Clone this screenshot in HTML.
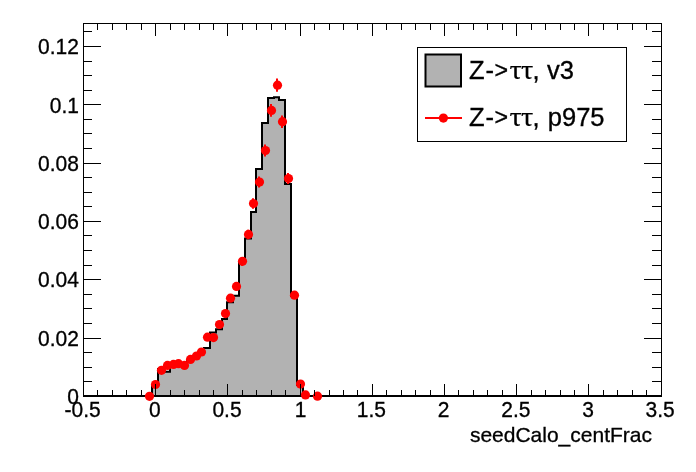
<!DOCTYPE html>
<html><head><meta charset="utf-8"><title>seedCalo_centFrac</title>
<style>html,body{margin:0;padding:0;background:#fff}svg{display:block}text{font-family:"Liberation Sans",sans-serif;fill:#000}.ser{font-family:"Liberation Serif",serif}</style></head><body>
<svg width="696" height="472" viewBox="0 0 696 472">
<rect x="0" y="0" width="696" height="472" fill="#fff"/>
<path d="M152.00,395.90 L152.00,385.00 L158.00,385.00 L158.00,369.00 L164.00,369.00 L164.00,371.70 L170.00,371.70 L170.00,366.00 L175.00,366.00 L175.00,365.00 L181.00,365.00 L181.00,366.00 L187.00,366.00 L187.00,361.00 L193.00,361.00 L193.00,357.00 L199.00,357.00 L199.00,353.00 L204.00,353.00 L204.00,348.00 L210.00,348.00 L210.00,332.60 L216.00,332.60 L216.00,329.20 L222.00,329.20 L222.00,318.90 L227.00,318.90 L227.00,302.30 L233.00,302.30 L233.00,295.70 L239.00,295.70 L239.00,262.00 L245.00,262.00 L245.00,238.50 L251.00,238.50 L251.00,212.00 L256.00,212.00 L256.00,168.90 L262.00,168.90 L262.00,123.10 L268.00,123.10 L268.00,98.00 L274.00,98.00 L274.00,97.20 L279.00,97.20 L279.00,99.90 L285.00,99.90 L285.00,183.90 L291.00,183.90 L291.00,296.00 L297.00,296.00 L297.00,385.00 L303.00,385.00 L303.00,394.50 L308.00,394.50 L308.00,395.90 Z" fill="#b2b2b2" stroke="none"/>
<path d="M152.00,395.90 L152.00,385.00 L158.00,385.00 L158.00,369.00 L164.00,369.00 L164.00,371.70 L170.00,371.70 L170.00,366.00 L175.00,366.00 L175.00,365.00 L181.00,365.00 L181.00,366.00 L187.00,366.00 L187.00,361.00 L193.00,361.00 L193.00,357.00 L199.00,357.00 L199.00,353.00 L204.00,353.00 L204.00,348.00 L210.00,348.00 L210.00,332.60 L216.00,332.60 L216.00,329.20 L222.00,329.20 L222.00,318.90 L227.00,318.90 L227.00,302.30 L233.00,302.30 L233.00,295.70 L239.00,295.70 L239.00,262.00 L245.00,262.00 L245.00,238.50 L251.00,238.50 L251.00,212.00 L256.00,212.00 L256.00,168.90 L262.00,168.90 L262.00,123.10 L268.00,123.10 L268.00,98.00 L274.00,98.00 L274.00,97.20 L279.00,97.20 L279.00,99.90 L285.00,99.90 L285.00,183.90 L291.00,183.90 L291.00,296.00 L297.00,296.00 L297.00,385.00 L303.00,385.00 L303.00,394.50 L308.00,394.50 L308.00,395.90" fill="none" stroke="#000" stroke-width="2" stroke-linejoin="miter" stroke-linecap="butt"/>
<g stroke="#000" stroke-width="1" shape-rendering="crispEdges" fill="none">
<line x1="83.5" y1="23.5" x2="83.5" y2="396.5"/>
<line x1="661.5" y1="23.5" x2="661.5" y2="396.5"/>
<line x1="83.0" y1="23.5" x2="662.0" y2="23.5"/>
<line x1="83.0" y1="396.0" x2="662.0" y2="396.0" stroke-width="2"/>
</g>
<g stroke="#f00" stroke-width="2" fill="#f00">
<circle cx="149.50" cy="396.30" r="4.6" stroke="none"/>
<circle cx="155.50" cy="384.50" r="4.6" stroke="none"/>
<circle cx="161.50" cy="370.30" r="4.6" stroke="none"/>
<circle cx="167.50" cy="365.40" r="4.6" stroke="none"/>
<circle cx="173.50" cy="364.40" r="4.6" stroke="none"/>
<circle cx="178.50" cy="363.70" r="4.6" stroke="none"/>
<circle cx="184.50" cy="365.40" r="4.6" stroke="none"/>
<circle cx="190.50" cy="359.40" r="4.6" stroke="none"/>
<circle cx="196.50" cy="356.00" r="4.6" stroke="none"/>
<circle cx="201.50" cy="352.00" r="4.6" stroke="none"/>
<circle cx="207.50" cy="337.20" r="4.6" stroke="none"/>
<circle cx="213.50" cy="337.60" r="4.6" stroke="none"/>
<circle cx="219.50" cy="324.50" r="4.6" stroke="none"/>
<circle cx="225.50" cy="313.60" r="4.6" stroke="none"/>
<line x1="230.00" y1="294.49" x2="230.00" y2="301.91"/>
<circle cx="230.50" cy="298.20" r="4.6" stroke="none"/>
<line x1="236.00" y1="282.47" x2="236.00" y2="290.33"/>
<circle cx="236.50" cy="286.40" r="4.6" stroke="none"/>
<line x1="242.00" y1="256.94" x2="242.00" y2="265.66"/>
<circle cx="242.50" cy="261.30" r="4.6" stroke="none"/>
<line x1="248.00" y1="229.63" x2="248.00" y2="239.17"/>
<circle cx="248.50" cy="234.40" r="4.6" stroke="none"/>
<line x1="253.00" y1="198.29" x2="253.00" y2="208.71"/>
<circle cx="253.50" cy="203.50" r="4.6" stroke="none"/>
<line x1="259.00" y1="176.61" x2="259.00" y2="187.59"/>
<circle cx="259.50" cy="182.10" r="4.6" stroke="none"/>
<line x1="265.00" y1="144.62" x2="265.00" y2="156.38"/>
<circle cx="265.50" cy="150.50" r="4.6" stroke="none"/>
<line x1="271.00" y1="104.05" x2="271.00" y2="116.75"/>
<circle cx="271.50" cy="110.40" r="4.6" stroke="none"/>
<line x1="277.00" y1="78.58" x2="277.00" y2="91.82"/>
<circle cx="277.50" cy="85.20" r="4.6" stroke="none"/>
<line x1="282.00" y1="115.48" x2="282.00" y2="127.92"/>
<circle cx="282.50" cy="121.70" r="4.6" stroke="none"/>
<line x1="288.00" y1="172.96" x2="288.00" y2="184.04"/>
<circle cx="288.50" cy="178.50" r="4.6" stroke="none"/>
<line x1="294.00" y1="291.43" x2="294.00" y2="298.97"/>
<circle cx="294.50" cy="295.20" r="4.6" stroke="none"/>
<circle cx="300.50" cy="384.10" r="4.6" stroke="none"/>
<circle cx="305.50" cy="394.90" r="4.6" stroke="none"/>
<circle cx="317.50" cy="396.20" r="4.6" stroke="none"/>
</g>
<g stroke="#000" stroke-width="1" shape-rendering="crispEdges" fill="none">
<line x1="83.5" y1="396.0" x2="83.5" y2="384.0"/>
<line x1="83.5" y1="23.5" x2="83.5" y2="35.5"/>
<line x1="97.5" y1="396.0" x2="97.5" y2="390.0"/>
<line x1="97.5" y1="23.5" x2="97.5" y2="29.5"/>
<line x1="112.5" y1="396.0" x2="112.5" y2="390.0"/>
<line x1="112.5" y1="23.5" x2="112.5" y2="29.5"/>
<line x1="126.5" y1="396.0" x2="126.5" y2="390.0"/>
<line x1="126.5" y1="23.5" x2="126.5" y2="29.5"/>
<line x1="141.5" y1="396.0" x2="141.5" y2="390.0"/>
<line x1="141.5" y1="23.5" x2="141.5" y2="29.5"/>
<line x1="155.5" y1="396.0" x2="155.5" y2="384.0"/>
<line x1="155.5" y1="23.5" x2="155.5" y2="35.5"/>
<line x1="170.5" y1="396.0" x2="170.5" y2="390.0"/>
<line x1="170.5" y1="23.5" x2="170.5" y2="29.5"/>
<line x1="184.5" y1="396.0" x2="184.5" y2="390.0"/>
<line x1="184.5" y1="23.5" x2="184.5" y2="29.5"/>
<line x1="199.5" y1="396.0" x2="199.5" y2="390.0"/>
<line x1="199.5" y1="23.5" x2="199.5" y2="29.5"/>
<line x1="213.5" y1="396.0" x2="213.5" y2="390.0"/>
<line x1="213.5" y1="23.5" x2="213.5" y2="29.5"/>
<line x1="227.5" y1="396.0" x2="227.5" y2="384.0"/>
<line x1="227.5" y1="23.5" x2="227.5" y2="35.5"/>
<line x1="242.5" y1="396.0" x2="242.5" y2="390.0"/>
<line x1="242.5" y1="23.5" x2="242.5" y2="29.5"/>
<line x1="256.5" y1="396.0" x2="256.5" y2="390.0"/>
<line x1="256.5" y1="23.5" x2="256.5" y2="29.5"/>
<line x1="271.5" y1="396.0" x2="271.5" y2="390.0"/>
<line x1="271.5" y1="23.5" x2="271.5" y2="29.5"/>
<line x1="285.5" y1="396.0" x2="285.5" y2="390.0"/>
<line x1="285.5" y1="23.5" x2="285.5" y2="29.5"/>
<line x1="300.5" y1="396.0" x2="300.5" y2="384.0"/>
<line x1="300.5" y1="23.5" x2="300.5" y2="35.5"/>
<line x1="314.5" y1="396.0" x2="314.5" y2="390.0"/>
<line x1="314.5" y1="23.5" x2="314.5" y2="29.5"/>
<line x1="329.5" y1="396.0" x2="329.5" y2="390.0"/>
<line x1="329.5" y1="23.5" x2="329.5" y2="29.5"/>
<line x1="343.5" y1="396.0" x2="343.5" y2="390.0"/>
<line x1="343.5" y1="23.5" x2="343.5" y2="29.5"/>
<line x1="357.5" y1="396.0" x2="357.5" y2="390.0"/>
<line x1="357.5" y1="23.5" x2="357.5" y2="29.5"/>
<line x1="372.5" y1="396.0" x2="372.5" y2="384.0"/>
<line x1="372.5" y1="23.5" x2="372.5" y2="35.5"/>
<line x1="386.5" y1="396.0" x2="386.5" y2="390.0"/>
<line x1="386.5" y1="23.5" x2="386.5" y2="29.5"/>
<line x1="401.5" y1="396.0" x2="401.5" y2="390.0"/>
<line x1="401.5" y1="23.5" x2="401.5" y2="29.5"/>
<line x1="415.5" y1="396.0" x2="415.5" y2="390.0"/>
<line x1="415.5" y1="23.5" x2="415.5" y2="29.5"/>
<line x1="430.5" y1="396.0" x2="430.5" y2="390.0"/>
<line x1="430.5" y1="23.5" x2="430.5" y2="29.5"/>
<line x1="444.5" y1="396.0" x2="444.5" y2="384.0"/>
<line x1="444.5" y1="23.5" x2="444.5" y2="35.5"/>
<line x1="458.5" y1="396.0" x2="458.5" y2="390.0"/>
<line x1="458.5" y1="23.5" x2="458.5" y2="29.5"/>
<line x1="473.5" y1="396.0" x2="473.5" y2="390.0"/>
<line x1="473.5" y1="23.5" x2="473.5" y2="29.5"/>
<line x1="487.5" y1="396.0" x2="487.5" y2="390.0"/>
<line x1="487.5" y1="23.5" x2="487.5" y2="29.5"/>
<line x1="502.5" y1="396.0" x2="502.5" y2="390.0"/>
<line x1="502.5" y1="23.5" x2="502.5" y2="29.5"/>
<line x1="516.5" y1="396.0" x2="516.5" y2="384.0"/>
<line x1="516.5" y1="23.5" x2="516.5" y2="35.5"/>
<line x1="531.5" y1="396.0" x2="531.5" y2="390.0"/>
<line x1="531.5" y1="23.5" x2="531.5" y2="29.5"/>
<line x1="545.5" y1="396.0" x2="545.5" y2="390.0"/>
<line x1="545.5" y1="23.5" x2="545.5" y2="29.5"/>
<line x1="560.5" y1="396.0" x2="560.5" y2="390.0"/>
<line x1="560.5" y1="23.5" x2="560.5" y2="29.5"/>
<line x1="574.5" y1="396.0" x2="574.5" y2="390.0"/>
<line x1="574.5" y1="23.5" x2="574.5" y2="29.5"/>
<line x1="588.5" y1="396.0" x2="588.5" y2="384.0"/>
<line x1="588.5" y1="23.5" x2="588.5" y2="35.5"/>
<line x1="603.5" y1="396.0" x2="603.5" y2="390.0"/>
<line x1="603.5" y1="23.5" x2="603.5" y2="29.5"/>
<line x1="617.5" y1="396.0" x2="617.5" y2="390.0"/>
<line x1="617.5" y1="23.5" x2="617.5" y2="29.5"/>
<line x1="632.5" y1="396.0" x2="632.5" y2="390.0"/>
<line x1="632.5" y1="23.5" x2="632.5" y2="29.5"/>
<line x1="646.5" y1="396.0" x2="646.5" y2="390.0"/>
<line x1="646.5" y1="23.5" x2="646.5" y2="29.5"/>
<line x1="661.5" y1="396.0" x2="661.5" y2="384.0"/>
<line x1="661.5" y1="23.5" x2="661.5" y2="35.5"/>
<line x1="83.5" y1="396.5" x2="101.0" y2="396.5"/>
<line x1="661.5" y1="396.5" x2="644.0" y2="396.5"/>
<line x1="83.5" y1="381.5" x2="92.0" y2="381.5"/>
<line x1="661.5" y1="381.5" x2="652.0" y2="381.5"/>
<line x1="83.5" y1="367.5" x2="92.0" y2="367.5"/>
<line x1="661.5" y1="367.5" x2="652.0" y2="367.5"/>
<line x1="83.5" y1="352.5" x2="92.0" y2="352.5"/>
<line x1="661.5" y1="352.5" x2="652.0" y2="352.5"/>
<line x1="83.5" y1="338.5" x2="101.0" y2="338.5"/>
<line x1="661.5" y1="338.5" x2="644.0" y2="338.5"/>
<line x1="83.5" y1="323.5" x2="92.0" y2="323.5"/>
<line x1="661.5" y1="323.5" x2="652.0" y2="323.5"/>
<line x1="83.5" y1="308.5" x2="92.0" y2="308.5"/>
<line x1="661.5" y1="308.5" x2="652.0" y2="308.5"/>
<line x1="83.5" y1="294.5" x2="92.0" y2="294.5"/>
<line x1="661.5" y1="294.5" x2="652.0" y2="294.5"/>
<line x1="83.5" y1="279.5" x2="101.0" y2="279.5"/>
<line x1="661.5" y1="279.5" x2="644.0" y2="279.5"/>
<line x1="83.5" y1="265.5" x2="92.0" y2="265.5"/>
<line x1="661.5" y1="265.5" x2="652.0" y2="265.5"/>
<line x1="83.5" y1="250.5" x2="92.0" y2="250.5"/>
<line x1="661.5" y1="250.5" x2="652.0" y2="250.5"/>
<line x1="83.5" y1="235.5" x2="92.0" y2="235.5"/>
<line x1="661.5" y1="235.5" x2="652.0" y2="235.5"/>
<line x1="83.5" y1="221.5" x2="101.0" y2="221.5"/>
<line x1="661.5" y1="221.5" x2="644.0" y2="221.5"/>
<line x1="83.5" y1="206.5" x2="92.0" y2="206.5"/>
<line x1="661.5" y1="206.5" x2="652.0" y2="206.5"/>
<line x1="83.5" y1="192.5" x2="92.0" y2="192.5"/>
<line x1="661.5" y1="192.5" x2="652.0" y2="192.5"/>
<line x1="83.5" y1="177.5" x2="92.0" y2="177.5"/>
<line x1="661.5" y1="177.5" x2="652.0" y2="177.5"/>
<line x1="83.5" y1="163.5" x2="101.0" y2="163.5"/>
<line x1="661.5" y1="163.5" x2="644.0" y2="163.5"/>
<line x1="83.5" y1="148.5" x2="92.0" y2="148.5"/>
<line x1="661.5" y1="148.5" x2="652.0" y2="148.5"/>
<line x1="83.5" y1="133.5" x2="92.0" y2="133.5"/>
<line x1="661.5" y1="133.5" x2="652.0" y2="133.5"/>
<line x1="83.5" y1="119.5" x2="92.0" y2="119.5"/>
<line x1="661.5" y1="119.5" x2="652.0" y2="119.5"/>
<line x1="83.5" y1="104.5" x2="101.0" y2="104.5"/>
<line x1="661.5" y1="104.5" x2="644.0" y2="104.5"/>
<line x1="83.5" y1="90.5" x2="92.0" y2="90.5"/>
<line x1="661.5" y1="90.5" x2="652.0" y2="90.5"/>
<line x1="83.5" y1="75.5" x2="92.0" y2="75.5"/>
<line x1="661.5" y1="75.5" x2="652.0" y2="75.5"/>
<line x1="83.5" y1="61.5" x2="92.0" y2="61.5"/>
<line x1="661.5" y1="61.5" x2="652.0" y2="61.5"/>
<line x1="83.5" y1="46.5" x2="101.0" y2="46.5"/>
<line x1="661.5" y1="46.5" x2="644.0" y2="46.5"/>
<line x1="83.5" y1="31.5" x2="92.0" y2="31.5"/>
<line x1="661.5" y1="31.5" x2="652.0" y2="31.5"/>
</g>
<g font-size="21px" stroke="#000" stroke-width="0.3">
<text transform="translate(82.6,416.7) scale(1,1.045)" text-anchor="middle">-0.5</text>
<text transform="translate(154.8,416.7) scale(1,1.045)" text-anchor="middle">0</text>
<text transform="translate(227.0,416.7) scale(1,1.045)" text-anchor="middle">0.5</text>
<text transform="translate(300.5,416.7) scale(1,1.045)" text-anchor="middle">1</text>
<text transform="translate(371.4,416.7) scale(1,1.045)" text-anchor="middle">1.5</text>
<text transform="translate(443.6,416.7) scale(1,1.045)" text-anchor="middle">2</text>
<text transform="translate(515.8,416.7) scale(1,1.045)" text-anchor="middle">2.5</text>
<text transform="translate(588.0,416.7) scale(1,1.045)" text-anchor="middle">3</text>
<text transform="translate(660.2,416.7) scale(1,1.045)" text-anchor="middle">3.5</text>
<text transform="translate(78.9,404.0) scale(1,1.035)" text-anchor="end">0</text>
<text transform="translate(78.9,345.7) scale(1,1.035)" text-anchor="end">0.02</text>
<text transform="translate(78.9,287.4) scale(1,1.035)" text-anchor="end">0.04</text>
<text transform="translate(78.9,229.1) scale(1,1.035)" text-anchor="end">0.06</text>
<text transform="translate(78.9,170.8) scale(1,1.035)" text-anchor="end">0.08</text>
<text transform="translate(78.9,112.5) scale(1,1.035)" text-anchor="end">0.1</text>
<text transform="translate(78.9,54.2) scale(1,1.035)" text-anchor="end">0.12</text>
</g>
<text x="652" y="441.5" text-anchor="end" font-size="21px" stroke="#000" stroke-width="0.3">seedCalo_centFrac</text>
<rect x="417.5" y="47.5" width="209" height="94" fill="#fff" stroke="#000" stroke-width="1" shape-rendering="crispEdges"/>
<rect x="425.5" y="54.5" width="35.5" height="32" fill="#b2b2b2" stroke="#000" stroke-width="2"/>
<line x1="425" y1="118" x2="462" y2="118" stroke="#f00" stroke-width="2"/>
<circle cx="443.4" cy="118.1" r="4.6" fill="#f00"/>
<g font-size="25.5px" stroke="#000" stroke-width="0.35"><text x="468.9" y="78.5">Z</text><text x="485.6" y="78.5">-</text><text x="494.4" y="77.6" font-size="23.2px">&gt;</text><text x="532.6" y="78.5">, <tspan dx="0.3">v3</tspan></text></g>
<text class="ser" transform="translate(509.4,78.5) scale(1.14,1)" font-size="27px" stroke="#000" stroke-width="0.12">τ</text>
<text class="ser" transform="translate(520.9,78.5) scale(1.14,1)" font-size="27px" stroke="#000" stroke-width="0.12">τ</text>
<g font-size="25.5px" stroke="#000" stroke-width="0.35"><text x="468.9" y="125.8">Z</text><text x="485.6" y="125.8">-</text><text x="494.4" y="124.89999999999999" font-size="23.2px">&gt;</text><text x="532.6" y="125.8">, <tspan dx="1">p975</tspan></text></g>
<text class="ser" transform="translate(509.4,125.8) scale(1.14,1)" font-size="27px" stroke="#000" stroke-width="0.12">τ</text>
<text class="ser" transform="translate(520.9,125.8) scale(1.14,1)" font-size="27px" stroke="#000" stroke-width="0.12">τ</text>
</svg></body></html>
